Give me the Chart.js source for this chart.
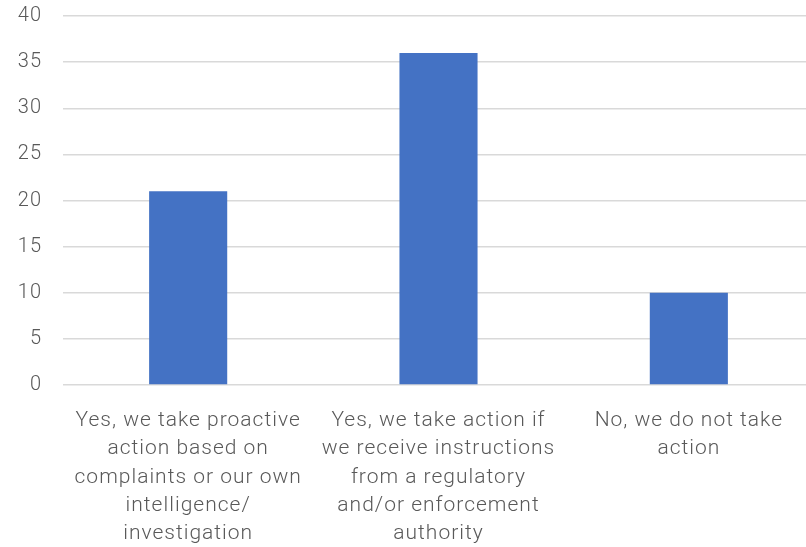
<!DOCTYPE html>
<html>
<head>
<meta charset="utf-8">
<script src="https://cdn.jsdelivr.net/npm/chart.js@4"></script>
<style>
  html, body { margin: 0; padding: 0; overflow: hidden; background: #fff; }
  #wrap { width: 814px; height: 547px; }
</style>
</head>
<body>
<div id="wrap"><canvas id="chart"></canvas></div>
<script>
// categories and values
const categories = [
  ['Yes, we take proactive', 'action based on', 'complaints or our own', 'intelligence/', 'investigation'],
  ['Yes, we take action if', 'we receive instructions', 'from a regulatory', 'and/or enforcement', 'authority'],
  ['No, we do not take', 'action']
];
const values = [21, 36, 10];
const yTicks = [0, 5, 10, 15, 20, 25, 30, 35, 40];

// letter spacing for all text, set before measuring
const spacing = {
  id: 'spacing',
  beforeUpdate(chart) { chart.ctx.letterSpacing = '1px'; },
  beforeDraw(chart) { chart.ctx.letterSpacing = '1px'; }
};

const ctx = document.getElementById('chart').getContext('2d');
new Chart(ctx, {
  type: 'bar',
  plugins: [spacing],
  data: {
    labels: categories,
    datasets: [{
      data: values,
      backgroundColor: '#4472C4',
      categoryPercentage: 1,
      barPercentage: 0.312
    }]
  },
  options: {
    responsive: true,
    maintainAspectRatio: false,
    animation: false,
    layout: { padding: { top: 16, right: 0, left: 0, bottom: 0 } },
    plugins: { legend: { display: false }, tooltip: { enabled: false } },
    scales: {
      x: {
        grid: { display: false, drawTicks: false },
        border: { display: false },
        ticks: {
          color: '#595959',
          font: { family: 'Roboto', size: 21, weight: 300, lineHeight: 1.34 },
          padding: 22,
          maxRotation: 0,
          autoSkip: false
        },
        afterFit(scale) {
          scale.height = 162;
          scale.paddingTop = 0;
          scale.paddingBottom = 0;
        }
      },
      y: {
        min: 0,
        max: 40,
        afterBuildTicks(scale) { scale.ticks = yTicks.map(v => ({ value: v })); },
        grid: { color: '#d9d9d9', lineWidth: 1.5, drawTicks: false },
        border: { display: false },
        ticks: {
          color: '#595959',
          font: { family: 'Roboto', size: 20, weight: 300 },
          padding: 21
        },
        afterFit(scale) {
          scale.width = 63;
          scale.paddingTop = 0;
          scale.paddingBottom = 0;
        }
      }
    }
  }
});
</script>
</body>
</html>
